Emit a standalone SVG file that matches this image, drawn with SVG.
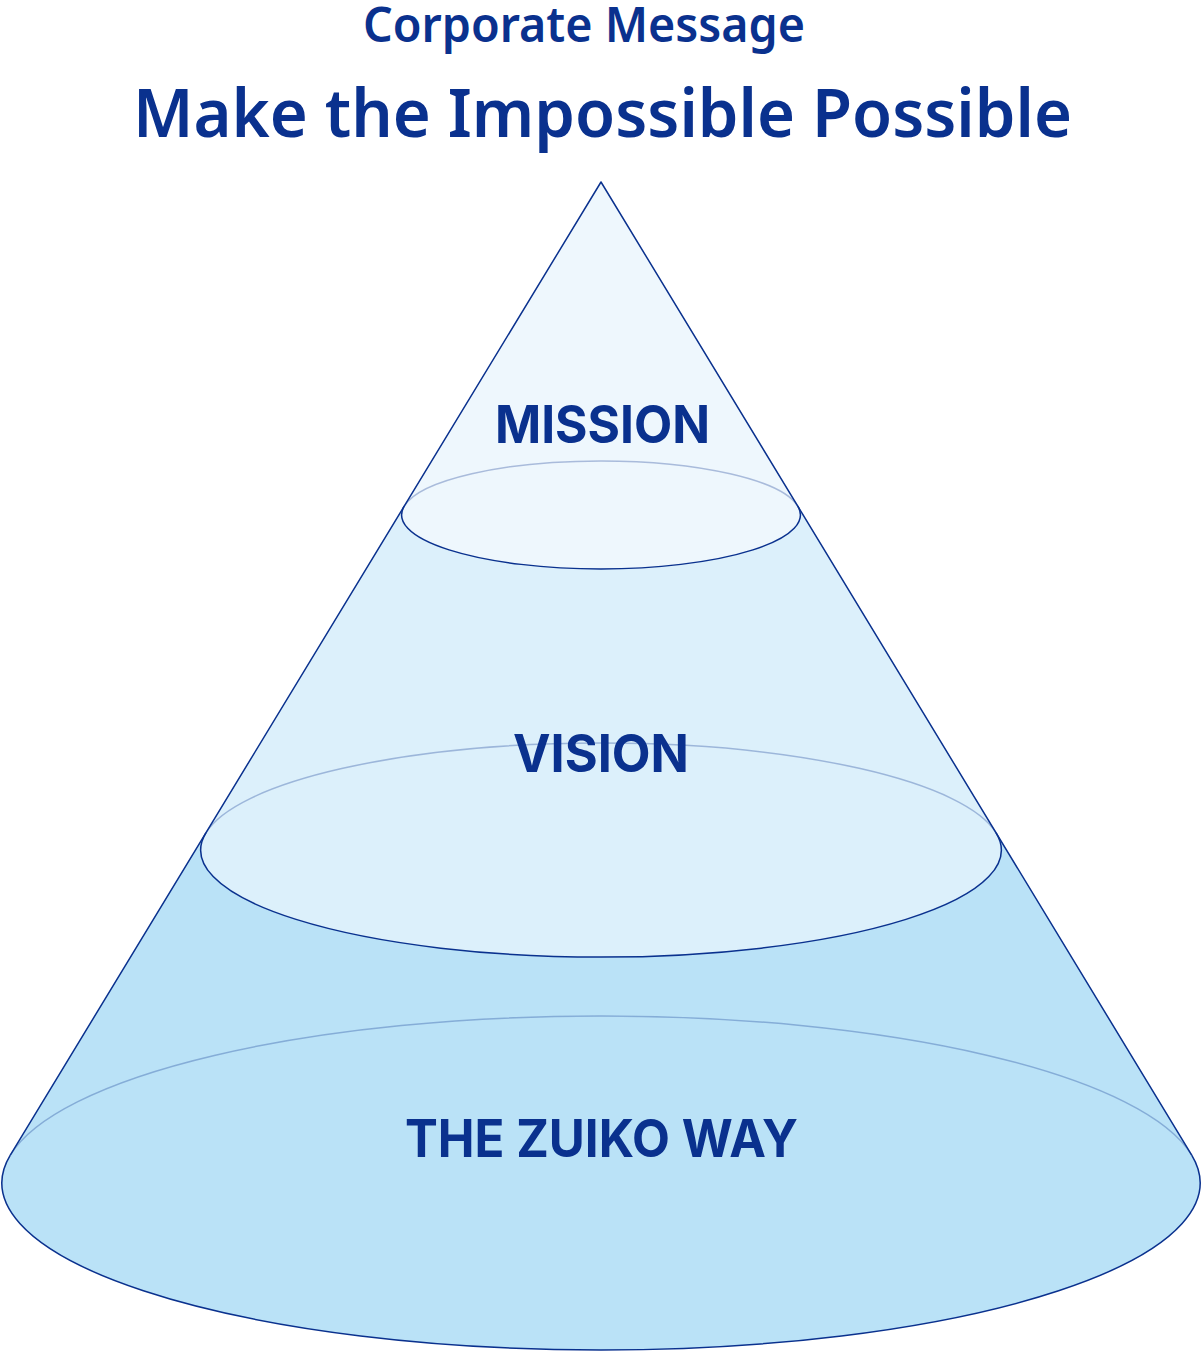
<svg xmlns="http://www.w3.org/2000/svg" width="1203" height="1352" viewBox="0 0 1203 1352">
  <style>
    .title { font-family: "Noto Sans", "Open Sans", sans-serif; font-weight: 600; fill: #0a318e; text-anchor: middle; }
    .label { font-family: Inter, "Noto Sans", sans-serif; font-weight: 700; fill: #0a318e; text-anchor: middle; font-size: 52px; }
    .fill { stroke: none; }
    .front { fill: none; stroke: #0a318e; stroke-width: 1.5; stroke-linejoin: round; }
    .back { fill: none; stroke: #0a318e; stroke-opacity: 0.3; stroke-width: 1.5; }
  </style>
  <rect width="1203" height="1352" fill="#ffffff"/>
  <g id="header">
    <text class="title" x="584" y="42" font-size="49" textLength="442" lengthAdjust="spacingAndGlyphs">Corporate Message</text>
    <text class="title" x="602.5" y="137" font-size="67" textLength="939" lengthAdjust="spacingAndGlyphs">Make the Impossible Possible</text>
  </g>
  <g id="the-zuiko-way">
    <path class="fill" fill="#bae2f7" d="M601,182 L10.3,1155.1 A599.1,167 0 1 0 1191.7,1155.1 Z"/>
    <path class="back" d="M10.3,1155.1 A599.1,167 0 0 1 1191.7,1155.1"/>
    <path class="front" d="M10.3,1155.1 A599.1,167 0 1 0 1191.7,1155.1"/>
  </g>
  <g id="vision">
    <path class="fill" fill="#dcf0fb" d="M601,182 L205.9,832.9 A400.3,107 0 1 0 996.1,832.9 Z"/>
    <path class="back" d="M205.9,832.9 A400.3,107 0 0 1 996.1,832.9"/>
    <path class="front" d="M205.9,832.9 A400.3,107 0 1 0 996.1,832.9"/>
  </g>
  <g id="mission">
    <path class="fill" fill="#eef7fd" d="M601,182 L404.2,506.2 A199.4,54 0 1 0 797.8,506.2 Z"/>
    <path class="back" d="M404.2,506.2 A199.4,54 0 0 1 797.8,506.2"/>
    <path class="front" d="M404.2,506.2 A199.4,54 0 1 0 797.8,506.2"/>
  </g>
  <g id="cone-sides">
    <path class="front" d="M10.3,1155.1 L601,182 L1191.7,1155.1"/>
  </g>
  <g id="labels">
    <text class="label" x="602.5" y="443" textLength="215" lengthAdjust="spacingAndGlyphs">MISSION</text>
    <text class="label" x="601" y="772" textLength="176" lengthAdjust="spacingAndGlyphs">VISION</text>
    <text class="label" x="601.5" y="1157" textLength="393" lengthAdjust="spacingAndGlyphs">THE ZUIKO WAY</text>
  </g>
  <g id="connectors"></g>
</svg>
